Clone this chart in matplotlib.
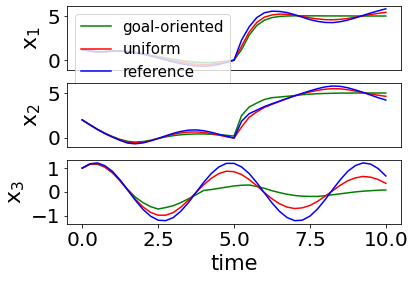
import numpy as np
import matplotlib
matplotlib.use("Agg")
import matplotlib.pyplot as plt

# time grid (step 0.25)
time = np.linspace(0, 10, 41)

# x1
x1_goal = [1.2, 1.05, 0.95, 0.97, 1.03, 1.05, 0.99, 0.88, 0.74, 0.58, 0.42, 0.26, 0.1, -0.04, -0.15, -0.23, -0.27, -0.26, -0.2, -0.1, 0.0,
           1.2, 2.85, 3.95, 4.55, 4.85, 4.98, 5.03, 5.05, 5.05, 5.05, 5.05, 5.04, 5.04, 5.04, 5.04, 5.03, 5.03, 5.03, 5.03, 5.03]
x1_uniform = [1.2, 1.05, 0.95, 0.97, 1.03, 1.05, 0.98, 0.86, 0.7, 0.52, 0.32, 0.12, -0.08, -0.25, -0.38, -0.46, -0.49, -0.45, -0.35, -0.19, 0.0,
              1.6, 3.2, 4.3, 4.9, 5.15, 5.25, 5.22, 5.12, 4.98, 4.82, 4.7, 4.62, 4.6, 4.65, 4.75, 4.9, 5.05, 5.2, 5.33, 5.45]
x1_ref = [1.2, 1.05, 0.95, 0.97, 1.03, 1.05, 0.98, 0.85, 0.68, 0.48, 0.26, 0.03, -0.2, -0.4, -0.55, -0.65, -0.68, -0.62, -0.48, -0.27, 0.0,
          2.3, 3.8, 4.85, 5.4, 5.58, 5.55, 5.42, 5.18, 4.9, 4.62, 4.42, 4.3, 4.28, 4.38, 4.57, 4.82, 5.1, 5.37, 5.62, 5.85]

# x2
x2_goal = [2.0, 1.46, 0.95, 0.5, 0.12, -0.2, -0.42, -0.5, -0.45, -0.3, -0.1, 0.08, 0.22, 0.32, 0.38, 0.41, 0.41, 0.38, 0.33, 0.26, 0.18,
           2.5, 3.45, 3.9, 4.3, 4.5, 4.58, 4.66, 4.74, 4.84, 4.9, 4.95, 4.98, 5.0, 5.02, 5.02, 5.03, 5.03, 5.03, 5.03, 5.03]
x2_uniform = [2.0, 1.45, 0.93, 0.47, 0.08, -0.26, -0.52, -0.6, -0.52, -0.33, -0.08, 0.15, 0.38, 0.53, 0.62, 0.64, 0.58, 0.45, 0.28, 0.1, -0.05,
              1.2, 2.3, 2.9, 3.4, 3.75, 4.08, 4.4, 4.7, 4.95, 5.15, 5.33, 5.46, 5.52, 5.5, 5.4, 5.25, 5.08, 4.92, 4.78, 4.66]
x2_ref = [2.0, 1.45, 0.92, 0.45, 0.05, -0.32, -0.62, -0.7, -0.6, -0.38, -0.1, 0.2, 0.48, 0.7, 0.84, 0.87, 0.78, 0.6, 0.38, 0.16, -0.05,
          1.85, 2.7, 3.1, 3.5, 3.82, 4.12, 4.42, 4.72, 5.0, 5.27, 5.52, 5.72, 5.82, 5.78, 5.62, 5.38, 5.1, 4.8, 4.5, 4.24]

# x3
x3_goal = [1.0, 1.16, 1.17, 1.04, 0.80, 0.47, 0.10, -0.22, -0.45, -0.62,
           -0.72, -0.66, -0.58, -0.45, -0.29, -0.12, 0.06, 0.10, 0.15, 0.20,
           0.25, 0.28, 0.29, 0.23, 0.15, 0.05, -0.03, -0.10, -0.15, -0.18,
           -0.19, -0.19, -0.16, -0.12, -0.08, -0.04, 0.00, 0.03, 0.05, 0.07, 0.08]
x3_uniform = [1.0, 1.16, 1.18, 1.05, 0.80, 0.46, 0.07, -0.31, -0.63, -0.86,
              -0.98, -0.98, -0.87, -0.64, -0.35, -0.02, 0.30, 0.57, 0.77, 0.87,
              0.85, 0.73, 0.52, 0.26, -0.03, -0.29, -0.50, -0.64, -0.70, -0.67,
              -0.57, -0.40, -0.18, 0.05, 0.28, 0.47, 0.59, 0.65, 0.62, 0.52, 0.36]
x3_ref = [1.0, 1.18, 1.22, 1.10, 0.86, 0.50, 0.08, -0.35, -0.73, -1.02,
          -1.19, -1.21, -1.08, -0.81, -0.45, -0.02, 0.40, 0.77, 1.05, 1.20,
          1.20, 1.05, 0.77, 0.39, -0.04, -0.46, -0.82, -1.08, -1.21, -1.19,
          -1.02, -0.72, -0.33, 0.10, 0.51, 0.87, 1.11, 1.22, 1.17, 0.98, 0.67]

labels = ['goal-oriented', 'uniform', 'reference']

plt.rcParams['font.size'] = 20

fig, axs = plt.subplots(3, 1, sharex=True, figsize=(417 / 72, 282 / 72), dpi=72)
fig.subplots_adjust(left=0.1607, right=0.9616, top=0.9787, bottom=0.2057, hspace=0.198)

series = [(x1_goal, x1_uniform, x1_ref),
          (x2_goal, x2_uniform, x2_ref),
          (x3_goal, x3_uniform, x3_ref)]
ylabels = ['x$_1$', 'x$_2$', 'x$_3$']
ylims = [(-1.14, 6.17), (-1.07, 6.17), (-1.35, 1.35)]

for ax, (g, u, r), yl, lim in zip(axs, series, ylabels, ylims):
    ax.plot(time, g, 'g', label=labels[0])
    ax.plot(time, u, 'r', label=labels[1])
    ax.plot(time, r, 'b', label=labels[2])
    ax.set_ylabel(yl, fontsize=22)
    ax.set_ylim(*lim)

axs[0].set_yticks([0, 5])
axs[1].set_yticks([0, 5])
axs[2].set_yticks([-1, 0, 1])
axs[0].tick_params(axis='x', bottom=False)
axs[1].tick_params(axis='x', bottom=False)
axs[2].set_xticks([0, 2.5, 5, 7.5, 10])
axs[2].set_xlabel('time', fontsize=21)

axs[0].legend(loc='upper left', fontsize=15)

fig.savefig('out.png', dpi=72)
